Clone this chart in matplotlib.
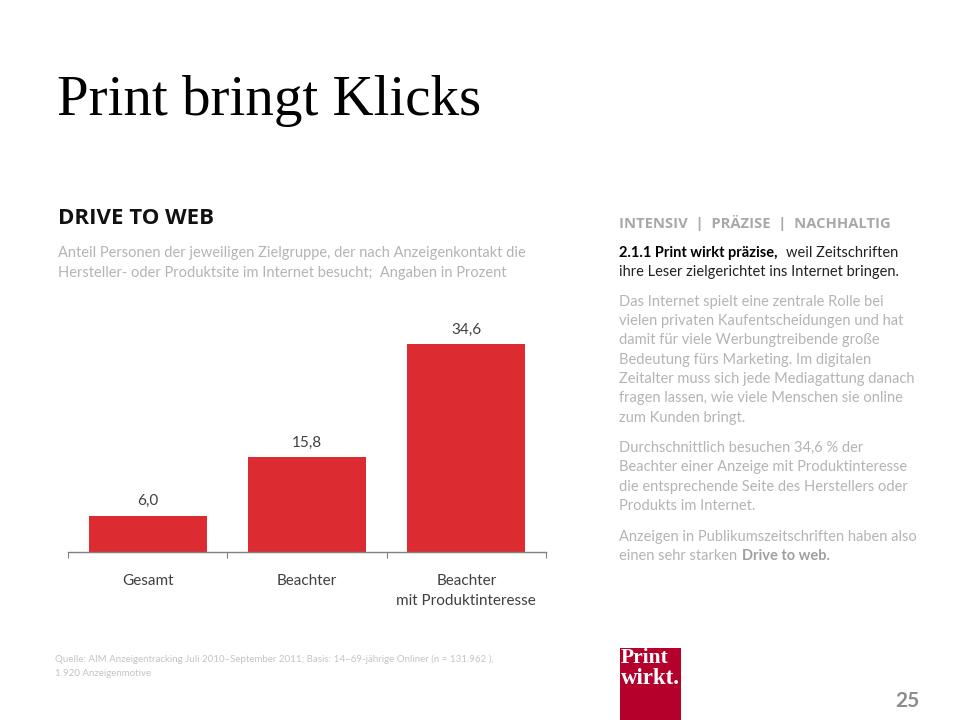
import matplotlib
matplotlib.use("Agg")
import matplotlib.pyplot as plt
from matplotlib.patches import Rectangle

categories = ["Gesamt", "Beachter", "Beachter\nmit Produktinteresse"]
values = [6.0, 15.8, 34.6]
value_labels = ["6,0", "15,8", "34,6"]

title = "Print bringt Klicks"
heading = "DRIVE TO WEB"
subtitle = [
    "Anteil Personen der jeweiligen Zielgruppe, der nach Anzeigenkontakt die",
    "Hersteller- oder Produktsite im Internet besucht;  Angaben in Prozent",
]
side_heading = "INTENSIV  |  PRÄZISE  |  NACHHALTIG"
side_body = [
    (302, "Das Internet spielt eine zentrale Rolle bei"),
    (321, "vielen privaten Kaufentscheidungen und hat"),
    (340, "damit für viele Werbungtreibende große"),
    (360, "Bedeutung fürs Marketing. Im digitalen"),
    (379, "Zeitalter muss sich jede Mediagattung danach"),
    (398, "fragen lassen, wie viele Menschen sie online"),
    (418, "zum Kunden bringt."),
    (448, "Durchschnittlich besuchen 34,6 % der"),
    (467, "Beachter einer Anzeige mit Produktinteresse"),
    (487, "die entsprechende Seite des Herstellers oder"),
    (506, "Produkts im Internet."),
    (537, "Anzeigen in Publikumszeitschriften haben also"),
]
source = [
    "Quelle: AIM Anzeigentracking Juli 2010–September 2011; Basis: 14–69-jährige Onliner (n = 131.962 ),",
    "1.920 Anzeigenmotive",
]

RED = "#dc2c32"
GREY = "#b4b4b4"
DARK = "#404040"
FONT = "Lato"
BODY = 10.55

W, H = 960, 720
fig = plt.figure(figsize=(W / 100, H / 100), dpi=100, facecolor="white")


def put(x, y, s, **kw):
    # x, y are pixels from the top left of the slide
    kw.setdefault("family", FONT)
    kw.setdefault("va", "center")
    return fig.text(x / W, 1 - y / H, s, **kw)


# bar chart
ax_h = 250
ax = fig.add_axes([68 / W, (H - 552) / H, 478 / W, ax_h / H])
ax.bar(range(3), values, width=0.74, color=RED)
ax.set_xlim(-0.5, 2.5)
ax.set_ylim(0, ax_h / 6.01)
ax.patch.set_visible(False)
for side in ["top", "left", "right"]:
    ax.spines[side].set_visible(False)
ax.spines["bottom"].set_color("#808080")
ax.spines["bottom"].set_linewidth(1)
ax.set_yticks([])
ax.set_xticks([-0.5, 0.5, 1.5, 2.5])
ax.set_xticklabels([])
ax.tick_params(axis="x", length=4, width=0.8, color="#808080")
for i, (v, lab) in enumerate(zip(values, value_labels)):
    ax.annotate(lab, (i, v), xytext=(0, 5.5), textcoords="offset points",
                ha="center", va="bottom", family=FONT, fontsize=11, color=DARK)
    ax.annotate(categories[i], (i, 0), xytext=(0, -15.5), textcoords="offset points",
                ha="center", va="top", family=FONT, fontsize=11, color=DARK,
                linespacing=1.6)

# text blocks
put(57, 101, title, family="Liberation Serif", fontsize=41, color="black")
put(58, 218, heading, family="Open Sans", fontsize=16, fontweight="bold", color="#111111")
put(58, 253, subtitle[0], fontsize=BODY, color=GREY)
put(58, 273, subtitle[1], fontsize=BODY, color=GREY)

put(619, 223, side_heading, family="Open Sans", fontsize=10.6, fontweight="bold", color="#a8a8a8")
put(619, 253, "2.1.1 Print wirkt präzise,", fontsize=BODY, fontweight="bold", color="black")
put(786, 253, "weil Zeitschriften", fontsize=BODY, color="#222222")
put(619, 272, "ihre Leser zielgerichtet ins Internet bringen.", fontsize=BODY, color="#222222")
for y, line in side_body:
    put(619, y, line, fontsize=BODY, color=GREY)
put(619, 556, "einen sehr starken", fontsize=BODY, color=GREY)
put(742, 556, "Drive to web.", fontsize=BODY, fontweight="bold", color="#a0a0a0")

put(55, 659, source[0], fontsize=7, color="#c4c4c4")
put(55, 673, source[1], fontsize=7, color="#c4c4c4")

# logo and page number
fig.add_artist(Rectangle((620 / W, 0), 61 / W, 72 / H, transform=fig.transFigure,
                         facecolor="#b4002b", edgecolor="none"))
put(621, 658, "Print", family="Liberation Serif", fontsize=15.5, fontweight="bold", color="white")
put(621, 678, "wirkt.", family="Liberation Serif", fontsize=16.5, fontweight="bold", color="white")
put(919, 701, "25", ha="right", fontsize=15, fontweight="bold", color="#8c8c8c")

fig.savefig("out.png", dpi=100)
